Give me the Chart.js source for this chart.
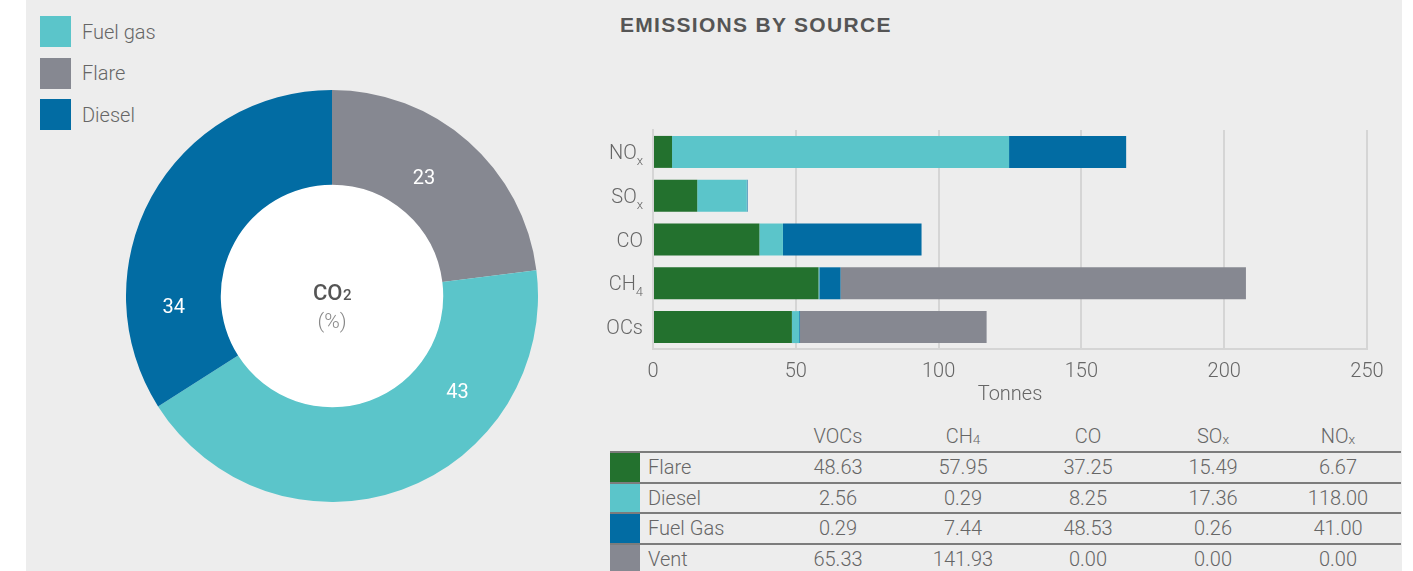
<!DOCTYPE html>
<html>
<head>
<meta charset="utf-8">
<title>Emissions by source</title>
<script src="https://cdn.jsdelivr.net/npm/chart.js@4.4.1/dist/chart.umd.min.js"></script>
<style>
  html, body { margin: 0; padding: 0; background: #fff; }
  body {
    position: relative; width: 1413px; height: 571px; overflow: hidden;
    font-family: Roboto, 'Liberation Sans', Arial, sans-serif; font-weight: 300; color: #666;
  }
  .panel { position: absolute; left: 26px; top: 0; width: 1376px; height: 571px; background: #ededed; }
  .title {
    position: absolute; left: 620px; top: 13px; margin: 0;
    font-family: 'Liberation Sans', Arial, sans-serif; font-weight: bold; font-size: 21px;
    letter-spacing: 1.3px; color: #555;
  }
  #co2-legend { position: absolute; left: 40px; top: 16px; }
  #co2-legend .item { display: flex; align-items: center; height: 31px; margin-bottom: 10.5px; font-size: 20px; }
  #co2-legend .box { width: 31px; height: 31px; margin-right: 11px; }
  #donut-wrap { position: absolute; left: 126px; top: 90px; width: 412px; height: 412px; }
  #bar-wrap { position: absolute; left: 560px; top: 120px; width: 840px; height: 289px; }
  #emissions-table {
    position: absolute; left: 610px; top: 420px; width: 790px;
    border-collapse: collapse; table-layout: fixed; font-size: 20px; color: #666;
  }
  #emissions-table th { height: 31px; padding: 0; font-weight: 300; text-align: center; }
  #emissions-table td { height: 28.5px; padding: 0; text-align: center; border-top: 2px solid #7c7c7c; }
  #emissions-table td.lbl { text-align: left; padding-left: 8px; }
  .sub { font-size: 68%; position: relative; top: 1px; }
</style>
</head>
<body>
<div class="panel"></div>
<div id="co2-legend"></div>
<div id="donut-wrap"><canvas id="co2-chart"></canvas></div>
<h2 class="title">EMISSIONS BY SOURCE</h2>
<div id="bar-wrap"><canvas id="source-chart"></canvas></div>
<table id="emissions-table"></table>

<script>
// CO2 split (%), drawn clockwise from 12 o'clock
var co2Sources = ['Flare', 'Fuel gas', 'Diesel'];
var co2Share = [23, 43, 34];
var co2LegendOrder = ['Fuel gas', 'Flare', 'Diesel'];

// tonnes per pollutant, table column order
var pollutants = ['VOCs', 'CH₄', 'CO', 'SOₓ', 'NOₓ'];
var sources = ['Flare', 'Diesel', 'Fuel Gas', 'Vent'];
var flareT   = [48.63, 57.95, 37.25, 15.49, 6.67];
var dieselT  = [2.56, 0.29, 8.25, 17.36, 118.00];
var fuelGasT = [0.29, 7.44, 48.53, 0.26, 41.00];
var ventT    = [65.33, 141.93, 0.00, 0.00, 0.00];

// bar axis, top to bottom
var barLabels = ['NOₓ', 'SOₓ', 'CO', 'CH₄', 'OCs'];
var xTicks = [0, 50, 100, 150, 200, 250];

(function() {
  var FONT = "Roboto, 'Liberation Sans', Arial, sans-serif";
  var textColor = '#666';
  var gridColor = '#d5d5d5';

  var sourceColors = { 'Flare': '#23712e', 'Diesel': '#5bc5ca', 'Fuel Gas': '#026ca3', 'Vent': '#868891' };
  var co2Colors = { 'Flare': '#868891', 'Fuel gas': '#5bc5ca', 'Diesel': '#026ca3' };

  // where along each arc its number sits (0 = arc start, 1 = arc end), and how far out in the ring
  var labelSpan = [0.46, 0.29, 0.23];
  var labelDepth = [0.4, 0.5, 0.5];

  var SUBS = { 'ₓ': 'x', '₄': '4', '₂': '2' };

  function splitSub(s) {
    var parts = [];
    for (var i = 0; i < s.length; i++) {
      var ch = s[i], isSub = SUBS.hasOwnProperty(ch);
      var c = isSub ? SUBS[ch] : ch;
      var last = parts[parts.length - 1];
      if (last && last.sub === isSub) last.t += c;
      else parts.push({ t: c, sub: isSub });
    }
    return parts;
  }

  function subHtml(s) {
    return splitSub(s).map(function(p) {
      return p.sub ? '<span class="sub">' + p.t + '</span>' : p.t;
    }).join('');
  }

  /* ---- legend ---- */
  var legend = document.getElementById('co2-legend');
  co2LegendOrder.forEach(function(name) {
    var item = document.createElement('div');
    item.className = 'item';
    item.innerHTML = '<span class="box" style="background:' + co2Colors[name] + '"></span>' + name;
    legend.appendChild(item);
  });

  /* ---- 1. CO2 doughnut ---- */
  var donutDecor = {
    id: 'donutDecor',
    beforeDatasetsDraw: function(chart) {
      var arc = chart.getDatasetMeta(0).data[0];
      var p = arc.getProps(['x', 'y', 'innerRadius'], true);
      var ctx = chart.ctx;
      ctx.save();
      ctx.fillStyle = '#fff';
      ctx.beginPath();
      ctx.arc(p.x, p.y, p.innerRadius + 0.5, 0, Math.PI * 2);
      ctx.fill();
      ctx.restore();
    },
    afterDatasetsDraw: function(chart) {
      var ctx = chart.ctx;
      var arcs = chart.getDatasetMeta(0).data;
      ctx.save();
      ctx.textAlign = 'center';
      ctx.textBaseline = 'middle';
      ctx.font = '400 20px ' + FONT;
      ctx.fillStyle = '#fff';
      arcs.forEach(function(arc, i) {
        var p = arc.getProps(['x', 'y', 'startAngle', 'endAngle', 'innerRadius', 'outerRadius'], true);
        var a = p.startAngle + (p.endAngle - p.startAngle) * labelSpan[i];
        var r = p.innerRadius + (p.outerRadius - p.innerRadius) * labelDepth[i];
        ctx.fillText(String(co2Share[i]), p.x + Math.cos(a) * r, p.y + Math.sin(a) * r);
      });

      // centre caption: CO2 (%)
      var c = arcs[0].getProps(['x', 'y'], true);
      ctx.fillStyle = '#555';
      ctx.textAlign = 'left';
      ctx.textBaseline = 'alphabetic';
      ctx.font = '500 22px ' + FONT;
      var w1 = ctx.measureText('CO').width;
      ctx.font = '500 15px ' + FONT;
      var w2 = ctx.measureText('2').width;
      var x0 = c.x - (w1 + w2) / 2;
      ctx.font = '500 22px ' + FONT;
      ctx.fillText('CO', x0, c.y + 4);
      ctx.font = '500 15px ' + FONT;
      ctx.fillText('2', x0 + w1 + 0.5, c.y + 4);
      ctx.font = '300 21px ' + FONT;
      ctx.fillStyle = '#888';
      ctx.textAlign = 'center';
      ctx.fillText('(%)', c.x, c.y + 32);
      ctx.restore();
    }
  };

  new Chart(document.getElementById('co2-chart'), {
    type: 'doughnut',
    data: {
      labels: co2Sources,
      datasets: [{
        data: co2Share,
        backgroundColor: co2Sources.map(function(s) { return co2Colors[s]; }),
        borderWidth: 0
      }]
    },
    options: {
      responsive: true,
      maintainAspectRatio: false,
      animation: false,
      cutout: '54%',
      layout: { padding: 0 },
      plugins: { legend: { display: false }, tooltip: { enabled: false } }
    },
    plugins: [donutDecor]
  });

  /* ---- 2. Emissions by source, stacked bars ---- */
  var yLabels = {
    id: 'yLabels',
    afterDraw: function(chart) {
      var yScale = chart.scales.y;
      var ctx = chart.ctx;
      ctx.save();
      ctx.fillStyle = textColor;
      ctx.textAlign = 'right';
      ctx.textBaseline = 'alphabetic';
      yScale.getLabels().forEach(function(label, i) {
        var base = yScale.getPixelForValue(i) + 7;
        var x = yScale.right - 10;
        var parts = splitSub(label);
        for (var k = parts.length - 1; k >= 0; k--) {
          var p = parts[k];
          ctx.font = (p.sub ? '300 13px ' : '300 20px ') + FONT;
          ctx.fillText(p.t, x, p.sub ? base + 6 : base);
          x -= ctx.measureText(p.t).width;
        }
      });
      ctx.restore();
    }
  };

  var series = [flareT, dieselT, fuelGasT, ventT];

  new Chart(document.getElementById('source-chart'), {
    type: 'bar',
    data: {
      labels: barLabels,
      datasets: sources.map(function(name, i) {
        return {
          label: name,
          data: series[i].slice().reverse(),
          backgroundColor: sourceColors[name],
          borderWidth: 0,
          barPercentage: 0.73,
          categoryPercentage: 1
        };
      })
    },
    options: {
      indexAxis: 'y',
      responsive: true,
      maintainAspectRatio: false,
      animation: false,
      layout: { padding: { top: 10, right: 33, left: 0, bottom: 0 } },
      plugins: { legend: { display: false }, tooltip: { enabled: false } },
      scales: {
        x: {
          stacked: true,
          min: 0,
          max: 250,
          afterBuildTicks: function(s) { s.ticks = xTicks.map(function(v) { return { value: v }; }); },
          afterFit: function(s) { s.height = 60; },
          grid: { color: gridColor, lineWidth: 2, drawTicks: false },
          border: { display: true, color: gridColor, width: 2 },
          ticks: { color: textColor, padding: 11, font: { family: FONT, size: 20, weight: 300 } },
          title: {
            display: true,
            text: 'Tonnes',
            color: textColor,
            padding: { top: 0, bottom: 2 },
            font: { family: FONT, size: 20, weight: 300 }
          }
        },
        y: {
          stacked: true,
          afterFit: function(s) { s.width = 93; },
          grid: { display: false },
          border: { display: true, color: gridColor, width: 2 },
          ticks: { display: false }
        }
      }
    },
    plugins: [yLabels]
  });

  /* ---- 3. Data table ---- */
  var table = document.getElementById('emissions-table');
  var html = '<colgroup><col style="width:30px"><col style="width:135.5px">' +
    pollutants.map(function() { return '<col style="width:125px">'; }).join('') + '</colgroup>';
  html += '<tr><th></th><th></th>' + pollutants.map(function(p) { return '<th>' + subHtml(p) + '</th>'; }).join('') + '</tr>';
  series.forEach(function(vals, i) {
    html += '<tr><td style="background:' + sourceColors[sources[i]] + '"></td><td class="lbl">' + sources[i] + '</td>' +
      vals.map(function(v) { return '<td>' + v.toFixed(2) + '</td>'; }).join('') + '</tr>';
  });
  table.innerHTML = html;
})();
</script>
</body>
</html>
